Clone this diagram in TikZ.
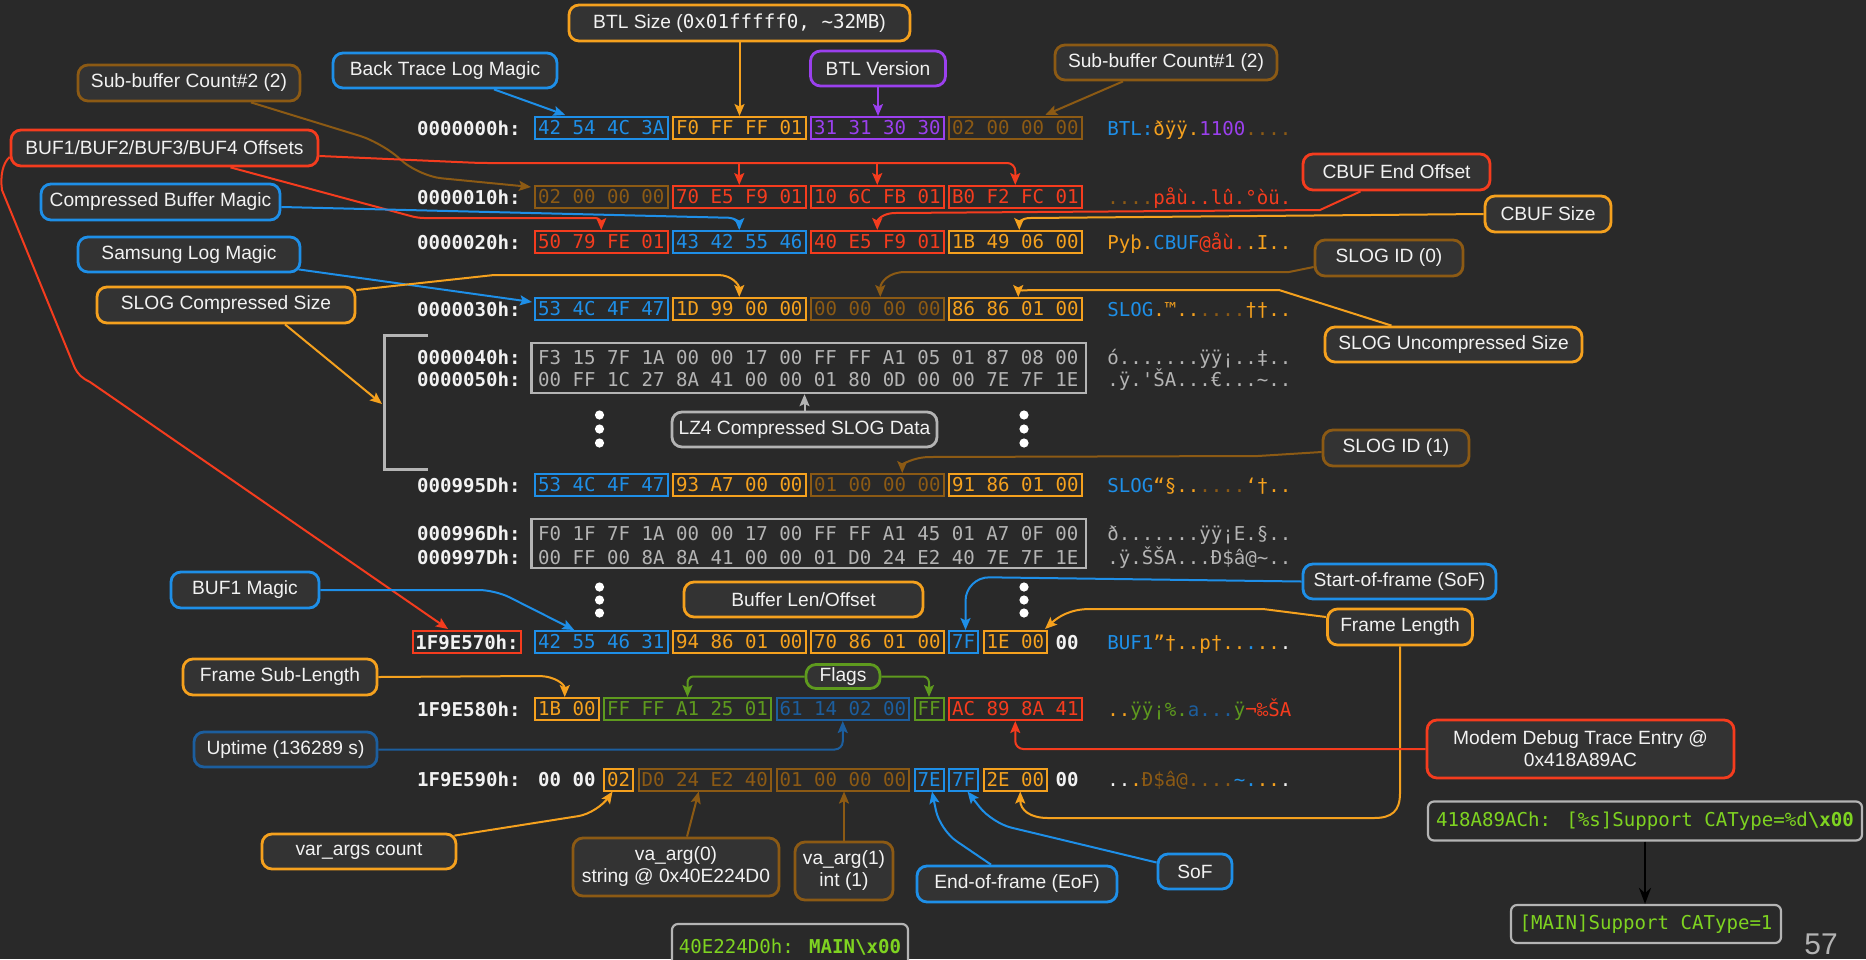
\documentclass[tikz,border=0pt]{standalone}
\usepackage{fontspec}
\setmainfont{Liberation Sans}
\newfontfamily\monof{DejaVu Sans Mono}
\usetikzlibrary{arrows.meta,calc}

\definecolor{bg}{HTML}{292929}
\definecolor{lblfill}{HTML}{333333}
\definecolor{cblue}{HTML}{1E8FE8}
\definecolor{corange}{HTML}{F5A11E}
\definecolor{cred}{HTML}{F53C1E}
\definecolor{cbrown}{HTML}{8C5A14}
\definecolor{cpurple}{HTML}{9B40EE}
\definecolor{cgreen}{HTML}{5E9A1E}
\definecolor{cdblue}{HTML}{1C5E9E}
\definecolor{cgray}{HTML}{B4B4B4}
\definecolor{clime}{HTML}{7ED321}
\definecolor{ctext}{HTML}{F2F2F2}

\newcommand\hexfont{\monof\fontsize{9.55}{11.5}\selectfont}
\newcommand\lblfont{\fontsize{9.6}{11}\selectfont}
\newcommand\C[2]{\textcolor{#1}{#2}}

\tikzset{
  lbl/.style={draw=#1, line width=1.4pt, rounded corners=5pt, fill=lblfill, text=ctext, font=\lblfont, inner sep=0pt, align=center},
  hexg/.style={draw=#1, text=#1, line width=1pt, font=\hexfont, inner sep=0pt, minimum height=11pt},
  plaintxt/.style={text=ctext, font={\hexfont\bfseries}, inner sep=0pt, anchor=base},
  addr/.style={text=ctext, font={\hexfont\bfseries}, inner sep=0pt, anchor=base east},
  asc/.style={font=\hexfont, inner sep=0pt, anchor=base west},
  con/.style={draw=#1, line width=1pt, -{Stealth[length=6pt,width=5pt,inset=1.2pt]}},
  dotn/.style={circle, fill=white, inner sep=0pt, minimum size=4.6pt},
  grayrow/.style={text=cgray, font=\hexfont, inner sep=0pt, anchor=base},
}
% #1 name, #2 y, #3 first byte, #4 last byte, #5 colour, #6 text
\newcommand\hx[6]{\node[hexg=#5, minimum width={(#4-#3)*17.25pt+14.5pt}] (#1) at ({549.5+(#3+#4)*17.25},#2) {#6};}
% #1 name, #2 y, #3 byte, #4 text
\newcommand\hb[4]{\node[plaintxt] (#1) at ({549.5+#3*34.5},#2+7) {#4};}

\begin{document}
\begin{tikzpicture}[x=0.5pt,y=-0.5pt]
\fill[bg] (0,0) rectangle (1866,959);
\useasboundingbox (0,0) rectangle (1866,959);

% ---------------- addresses
\node[addr] (ad0) at (521,135) {0000000h:};
\node[addr] (ad1) at (521,204) {0000010h:};
\node[addr] (ad2) at (521,249) {0000020h:};
\node[addr] (ad3) at (521,316) {0000030h:};
\node[addr] (ad4) at (521,364) {0000040h:};
\node[addr] (ad5) at (521,386) {0000050h:};
\node[addr] (ad6) at (521,492) {000995Dh:};
\node[addr] (ad7) at (521,540) {000996Dh:};
\node[addr] (ad8) at (521,564) {000997Dh:};
\node[addr,anchor=center,draw=cred,line width=1pt,minimum width=54pt,minimum height=11pt] (a570) at (467,642) {1F9E570h:};
\node[addr] (ad10) at (521,716) {1F9E580h:};
\node[addr] (ad11) at (521,786.5) {1F9E590h:};

% ---------------- hex rows
\hx{r0a}{128}{0}{3}{cblue}{42 54 4C 3A}
\hx{r0b}{128}{4}{7}{corange}{F0 FF FF 01}
\hx{r0c}{128}{8}{11}{cpurple}{31 31 30 30}
\hx{r0d}{128}{12}{15}{cbrown}{02 00 00 00}

\hx{r1a}{197}{0}{3}{cbrown}{02 00 00 00}
\hx{r1b}{197}{4}{7}{cred}{70 E5 F9 01}
\hx{r1c}{197}{8}{11}{cred}{10 6C FB 01}
\hx{r1d}{197}{12}{15}{cred}{B0 F2 FC 01}

\hx{r2a}{242}{0}{3}{cred}{50 79 FE 01}
\hx{r2b}{242}{4}{7}{cblue}{43 42 55 46}
\hx{r2c}{242}{8}{11}{cred}{40 E5 F9 01}
\hx{r2d}{242}{12}{15}{corange}{1B 49 06 00}

\hx{r3a}{309}{0}{3}{cblue}{53 4C 4F 47}
\hx{r3b}{309}{4}{7}{corange}{1D 99 00 00}
\hx{r3c}{309}{8}{11}{cbrown}{00 00 00 00}
\hx{r3d}{309}{12}{15}{corange}{86 86 01 00}

\node[draw=cgray, line width=1.2pt, minimum width=277.25pt, minimum height=25pt, inner sep=0pt] (lzA) at (808.75,368) {};
\node[grayrow] (t40) at (808.25,364) {F3 15 7F 1A 00 00 17 00 FF FF A1 05 01 87 08 00};
\node[grayrow] (t50) at (808.25,386) {00 FF 1C 27 8A 41 00 00 01 80 0D 00 00 7E 7F 1E};

\hx{r995a}{485}{0}{3}{cblue}{53 4C 4F 47}
\hx{r995b}{485}{4}{7}{corange}{93 A7 00 00}
\hx{r995c}{485}{8}{11}{cbrown}{01 00 00 00}
\hx{r995d}{485}{12}{15}{corange}{91 86 01 00}

\node[draw=cgray, line width=1.2pt, minimum width=277.25pt, minimum height=24.5pt, inner sep=0pt] (lzB) at (808.75,543.5) {};
\node[grayrow] (t6d) at (808.25,540) {F0 1F 7F 1A 00 00 17 00 FF FF A1 45 01 A7 0F 00};
\node[grayrow] (t7d) at (808.25,564) {00 FF 00 8A 8A 41 00 00 01 D0 24 E2 40 7E 7F 1E};

\hx{r570a}{642}{0}{3}{cblue}{42 55 46 31}
\hx{r570b}{642}{4}{7}{corange}{94 86 01 00}
\hx{r570c}{642}{8}{11}{corange}{70 86 01 00}
\hx{s570}{642}{12}{12}{cblue}{7F}
\hx{len570}{642}{13}{14}{corange}{1E 00}
\hb{p570}{642}{15}{00}

\hx{r580a}{709}{0}{1}{corange}{1B 00}
\hx{r580b}{709}{2}{6}{cgreen}{FF FF A1 25 01}
\hx{r580c}{709}{7}{10}{cdblue}{61 14 02 00}
\hx{r580e}{709}{11}{11}{cgreen}{FF}
\hx{r580d}{709}{12}{15}{cred}{AC 89 8A 41}

\hb{p590a}{779.5}{0}{00}
\hb{p590b}{779.5}{1}{00}
\hx{r590a}{779.5}{2}{2}{corange}{02}
\hx{r590b}{779.5}{3}{6}{cbrown}{D0 24 E2 40}
\hx{r590c}{779.5}{7}{10}{cbrown}{01 00 00 00}
\hx{r590e}{779.5}{11}{11}{cblue}{7E}
\hx{r590f}{779.5}{12}{12}{cblue}{7F}
\hx{len590}{779.5}{13}{14}{corange}{2E 00}
\hb{p590c}{779.5}{15}{00}

% ---------------- ascii column
\node[asc] (as0) at (1107,135) {\C{cblue}{BTL:}\C{corange}{ðÿÿ.}\C{cpurple}{1100}\C{cbrown}{....}};
\node[asc] (as1) at (1107,204) {\C{cbrown}{....}\C{cred}{påù..lû.°òü.}};
\node[asc] (as2) at (1107,249) {\C{corange}{Pyþ.}\C{cblue}{CBUF}\C{cred}{@åù.}\C{corange}{.I..}};
\node[asc] (as3) at (1107,316) {\C{cblue}{SLOG}\C{corange}{.™..}\C{cbrown}{....}\C{corange}{††..}};
\node[asc,text=cgray] (as4) at (1107,364) {ó.......ÿÿ¡..‡..};
\node[asc,text=cgray] (as5) at (1107,386) {.ÿ.'ŠA...€...\textasciitilde..};
\node[asc] (as6) at (1107,492) {\C{cblue}{SLOG}\C{corange}{“§..}\C{cbrown}{....}\C{corange}{‘†..}};
\node[asc,text=cgray] (as7) at (1107,540) {ð.......ÿÿ¡E.§..};
\node[asc,text=cgray] (as8) at (1107,564) {.ÿ.ŠŠA...Ð\$â@\textasciitilde..};
\node[asc] (as9) at (1107,649) {\C{cblue}{BUF1}\C{corange}{”†..p†..}\C{cblue}{.}\C{corange}{..}\C{ctext}{.}};
\node[asc] (as10) at (1107,716) {\C{corange}{..}\C{cgreen}{ÿÿ¡\%.}\C{cdblue}{a...}\C{cgreen}{ÿ}\C{cred}{¬‰ŠA}};
\node[asc] (as11) at (1107,786.5) {\C{ctext}{..}\C{corange}{.}\C{cbrown}{Ð\$â@....}\C{cblue}{\textasciitilde.}\C{corange}{..}\C{ctext}{.}};

% ---------------- bracket and dots
\draw[cgray, line width=1.5pt] (428,335) -- (384.5,335) -- (384.5,469) -- (428,469);
\coordinate (brk) at (382,404);
\foreach \yy [count=\i] in {415,429,443,587,600,613} {
  \node[dotn] (dl\i) at (599.5,\yy) {};
  \node[dotn] (dr\i) at (1024,\yy) {};
}

% ---------------- labels
\node[lbl=corange, minimum width=170.5pt, minimum height=18pt] (btlsize) at (739.5,23) {BTL Size ({\monof 0x01fffff0, \textasciitilde32MB})};
\node[lbl=cblue, minimum width=112pt, minimum height=17.5pt] (btlmagic) at (445,70.5) {Back Trace Log Magic};
\node[lbl=cpurple, minimum width=67.5pt, minimum height=17.5pt] (btlver) at (878,68.5) {BTL Version};
\node[lbl=cbrown, minimum width=111pt, minimum height=17.5pt] (sub1) at (1166,62.5) {Sub-buffer Count\#1 (2)};
\node[lbl=cbrown, minimum width=111pt, minimum height=18pt] (sub2) at (189,83) {Sub-buffer Count\#2 (2)};
\node[lbl=cred, minimum width=153.5pt, minimum height=18pt] (bufoff) at (164.5,148) {BUF1/BUF2/BUF3/BUF4 Offsets};
\node[lbl=cblue, minimum width=119.5pt, minimum height=18pt] (cbufmagic) at (160.5,202) {Compressed Buffer Magic};
\node[lbl=cblue, minimum width=111pt, minimum height=17.5pt] (slogmagic) at (189,254.5) {Samsung Log Magic};
\node[lbl=corange, minimum width=129pt, minimum height=18pt] (slogcsize) at (226,305) {SLOG Compressed Size};
\node[lbl=cred, minimum width=93.5pt, minimum height=18pt] (cbufend) at (1396.5,172) {CBUF End Offset};
\node[lbl=corange, minimum width=63pt, minimum height=18pt] (cbufsize) at (1548,214) {CBUF Size};
\node[lbl=cbrown, minimum width=74pt, minimum height=18pt] (slogid0) at (1389,258) {SLOG ID (0)};
\node[lbl=corange, minimum width=128.5pt, minimum height=17.5pt] (slogusize) at (1453.5,344.5) {SLOG Uncompressed Size};
\node[lbl=cgray, minimum width=132.5pt, minimum height=17.5pt] (lz4) at (804.5,429.5) {LZ4 Compressed SLOG Data};
\node[lbl=cbrown, minimum width=73pt, minimum height=18pt] (slogid1) at (1396,448) {SLOG ID (1)};
\node[lbl=cblue, minimum width=96.5pt, minimum height=17.5pt] (sof1) at (1399.5,581.5) {Start-of-frame (SoF)};
\node[lbl=corange, minimum width=119.5pt, minimum height=17.5pt] (buflen) at (803.5,599.5) {Buffer Len/Offset};
\node[lbl=corange, minimum width=72.5pt, minimum height=18pt] (frlen) at (1400,627) {Frame Length};
\node[lbl=cblue, minimum width=74pt, minimum height=18pt] (buf1magic) at (245,590) {BUF1 Magic};
\node[lbl=corange, minimum width=97pt, minimum height=18pt] (fsublen) at (280,677) {Frame Sub-Length};
\node[lbl=cgreen, minimum width=37pt, minimum height=12pt] (flags) at (843,676.5) {Flags};
\node[lbl=cdblue, minimum width=91.5pt, minimum height=17.5pt] (uptime) at (285.5,749.5) {Uptime (136289 s)};
\node[lbl=cred, minimum width=153.5pt, minimum height=29pt] (modem) at (1580.5,749) {Modem Debug Trace Entry @\\0x418A89AC};
\node[lbl=corange, minimum width=97pt, minimum height=17.5pt] (varargs) at (359,851.5) {var\_args count};
\node[lbl=cbrown, minimum width=103pt, minimum height=29pt] (vaarg0) at (676,867) {va\_arg(0)\\string @ 0x40E224D0};
\node[lbl=cbrown, minimum width=49pt, minimum height=29pt] (vaarg1) at (844,871) {va\_arg(1)\\int (1)};
\node[lbl=cblue, minimum width=100pt, minimum height=18pt] (eof) at (1017,884) {End-of-frame (EoF)};
\node[lbl=cblue, minimum width=37pt, minimum height=17.5pt] (sof2) at (1195,871.5) {SoF};

\node[draw=cgray, line width=1.1pt, rounded corners=3pt, fill=bg, text=clime, font=\hexfont, inner sep=0pt, minimum width=217pt, minimum height=19.5pt] (fmt) at (1645,821) {418A89ACh: [\%s]Support CAType=\%d{\bfseries\textbackslash x00}};
\node[draw=cgray, line width=1.1pt, rounded corners=3pt, fill=bg, text=clime, font=\hexfont, inner sep=0pt, minimum width=135pt, minimum height=19pt] (mainres) at (1646,924) {[MAIN]Support CAType=1};
\node[draw=cgray, line width=1.1pt, rounded corners=3pt, fill=bg, text=clime, font=\hexfont, inner sep=0pt, minimum width=118pt, minimum height=23pt] (str) at (790,947) {40E224D0h: {\bfseries MAIN\textbackslash x00}};
\node[text=cgray, font=\fontsize{15}{15}\selectfont, inner sep=0pt] (pg) at (1821,944) {57};

% ---------------- connectors
\coordinate (bo1) at (480,163);
\coordinate (bo2) at (418,218);
\coordinate (bo3) at (0,218);

\draw[con=cblue] ($(btlmagic.south)+(49,0)$) -- ($(r0a.north)+(-36,-1)$);
\draw[con=corange] (btlsize.south) -- (btlsize.south |- r0b.north);
\draw[con=cpurple] (btlver.south) -- (btlver.south |- r0c.north);
\draw[con=cbrown] ($(sub1.south)+(-43,0)$) -- ($(r0d.north)+(30,-1)$);
\draw[con=cbrown, rounded corners=12pt] ($(sub2.south)+(62,0)$) -- (383,143) -- (418,176) -- ($(r1a.north west)+(-3,2)$);

\draw[con=cred, rounded corners=4pt] ($(bufoff.east)+(0,8)$) -- (bo1) -- (r1d.north |- bo1) -- (r1d.north);
\draw[con=cred] (r1b.north |- bo1) -- (r1b.north);
\draw[con=cred] (r1c.north |- bo1) -- (r1c.north);
\draw[con=cred, rounded corners=3pt] ($(bufoff.south)+(66,0)$) -- (bo2) -- (r2a.north |- bo2) -- (r2a.north);
\draw[con=cred] ($(bufoff.west)+(0,9)$) .. controls (3,163) and (0,175) .. (2,190) -- (74,366) .. controls (78,375) and (82,378) .. (90,382) -- ($(a570.north west)+(36,-1)$);

\draw[con=cblue, rounded corners=5pt] ($(cbufmagic.east)+(0,5)$) -- (r2b.north |- bo3) -- (r2b.north);
\draw[con=cblue] ($(slogmagic.south east)+(-3,-4)$) -- ($(r3a.west)+(-2,-7)$);
\draw[con=corange] ($(slogcsize.east)+(0,-15)$) -- (494,275) -- (718,275) .. controls (732,275) and (739.25,285) .. (r3b.north);
\draw[con=corange] ($(slogcsize.south)+(59,0)$) -- (brk);

\draw[con=cred] ($(cbufend.south)+(-36,0)$) -- (1320,210) -- (895,213) .. controls (883,213) and (877.25,220) .. (r2c.north);
\draw[con=corange] (cbufsize.west) -- (1030,218) .. controls (1022,218) and (1019.25,223) .. ($(r2d.north)+(4,0)$);
\draw[con=cbrown] ($(slogid0.west)+(0,9)$) -- (1289,272) -- (905,272) .. controls (889,272) and (880.25,282) .. ($(r3c.north)+(3,0)$);
\draw[con=corange] ($(slogusize.north)+(-62,0)$) -- (1279,290) -- (1034,290) .. controls (1024,290) and (1018.25,292) .. ($(r3d.north)+(3,0)$);

\draw[con=cgray] (lz4.north) -- (lz4.north |- lzA.south);
\draw[con=cbrown] ($(slogid1.west)+(0,4)$) -- (1258,456) -- (930,457) .. controls (913,457) and (902.25,465) .. ($(r995c.north)+(25,0)$);

\draw[con=cblue, rounded corners=12pt] (sof1.west) -- (965.5,577) -- ($(s570.north)+(2,0)$);
\draw[con=corange] ($(frlen.west)+(0,-10)$) -- (1263,609) -- (1090,609) .. controls (1070,609) and (1058,617) .. ($(len570.north east)+(-3,-1)$);
\draw[con=corange] (frlen.south) -- (1400,793) .. controls (1400,811) and (1392,818) .. (1374,818) -- (1048,818) .. controls (1030,818) and (1020.25,810) .. ($(len590.south)+(5,0)$);

\draw[con=cred, rounded corners=4pt] (modem.west) -- (modem.west -| r580d.south) -- (r580d.south);
\draw[con=cdblue, rounded corners=4pt] (uptime.east) -- (uptime.east -| r580c.south) -- (r580c.south);
\draw[con=corange] (fsublen.east) -- (538,676) .. controls (556,676) and (564.75,685) .. ($(r580a.north)+(-2,0)$);
\draw[con=cblue, rounded corners=8pt] (buf1magic.east) -- (495,590) -- ($(r570a.north)+(-27,0)$);
\draw[con=cgreen, rounded corners=3pt] (flags.west) -- (flags.west -| r580b.north) -- (r580b.north);
\draw[con=cgreen, rounded corners=3pt] (flags.east) -- (flags.east -| r580e.north) -- (r580e.north);

\draw[con=corange, rounded corners=10pt] ($(varargs.north east)+(-3,3)$) -- (598,813) -- ($(r590a.south)+(-6,0)$);
\draw[con=cbrown] ($(vaarg0.north)+(11,0)$) -- ($(r590b.south)+(-6,0)$);
\draw[con=cbrown] (vaarg1.north) -- (vaarg1.north |- r590c.south);
\draw[con=cblue, rounded corners=10pt] ($(eof.north)+(-26,0)$) -- (940,830) -- ($(r590e.south)+(3,0)$);
\draw[con=cblue, rounded corners=10pt] ($(sof2.west)+(0,-9)$) -- (992,823) -- ($(r590f.south)+(4,0)$);

\draw[black, line width=1.3pt, -{Stealth[length=8pt,width=6pt]}] (fmt.south) -- (fmt.south |- mainres.north);
\end{tikzpicture}
\end{document}
